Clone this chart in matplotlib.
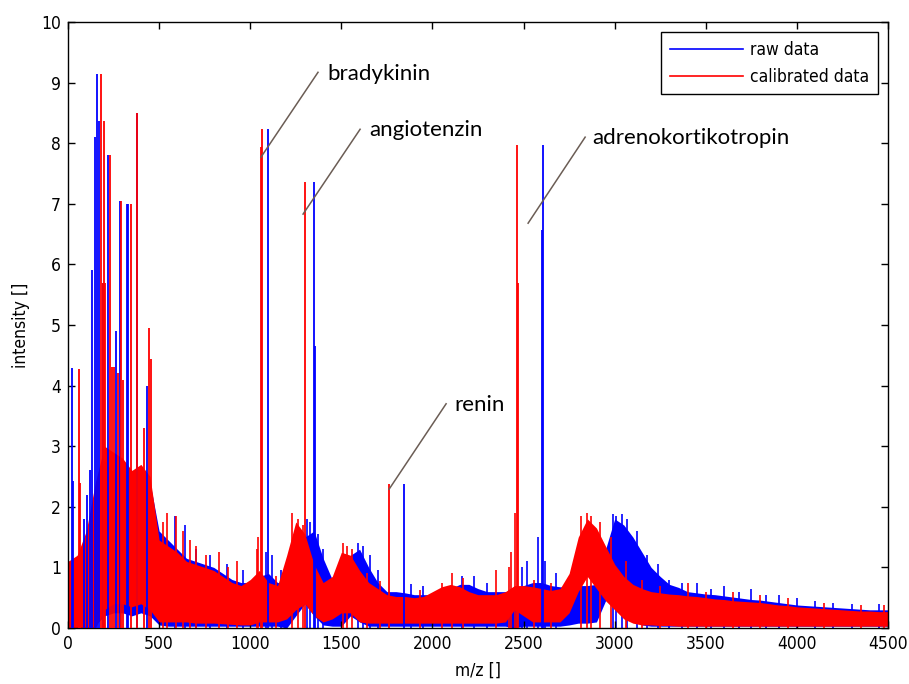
import numpy as np
import matplotlib
matplotlib.use("Agg")
import matplotlib.pyplot as plt
from matplotlib.lines import Line2D

# m/z grid for the noise envelopes (read every 50 units off the picture)
mz_grid = np.arange(0, 4501, 50)

# raw data (blue) upper / lower envelope of the noisy band
raw_top = [1.1, 1.1, 1.5, 2.2, 2.6, 2.8, 2.7, 2.6, 2.5, 2.4,
           1.6, 1.45, 1.3, 1.15, 1.1, 1.05, 1.0, 0.9, 0.8, 0.75,
           0.75, 0.85, 0.9, 0.75, 0.75, 0.9, 1.5, 1.6, 1.15, 0.8,
           0.75, 1.2, 1.3, 1.0, 0.75, 0.6, 0.6, 0.58, 0.55, 0.55,
           0.55, 0.6, 0.65, 0.72, 0.72, 0.65, 0.6, 0.6, 0.6, 0.62,
           0.7, 0.75, 0.75, 0.7, 0.68, 0.68, 0.7, 0.7, 0.72, 1.3,
           1.8, 1.7, 1.5, 1.25, 1.0, 0.85, 0.72, 0.67, 0.6, 0.58,
           0.56, 0.55, 0.53, 0.51, 0.49, 0.47, 0.46, 0.44, 0.42, 0.4,
           0.38, 0.37, 0.36, 0.35, 0.34, 0.33, 0.32, 0.31, 0.3, 0.3, 0.3]
raw_bot = [0.0, 0.0, 0.0, 0.05, 0.2, 0.25, 0.25, 0.2, 0.25, 0.2,
           0.05, 0.03, 0.03, 0.03, 0.03, 0.03, 0.03, 0.03, 0.03, 0.03,
           0.03, 0.03, 0.03, 0.03, 0.0, 0.2, 0.4, 0.2, 0.05, 0.03,
           0.03, 0.2, 0.1, 0.03, 0.03, 0.03, 0.03, 0.03, 0.03, 0.03,
           0.03, 0.03, 0.03, 0.03, 0.03, 0.03, 0.03, 0.03, 0.03, 0.0,
           0.03, 0.03, 0.03, 0.03, 0.03, 0.05, 0.08, 0.08, 0.1, 0.45,
           0.5, 0.3, 0.15, 0.05, 0.03, 0.03, 0.03, 0.03, 0.03, 0.03,
           0.03, 0.03, 0.03, 0.03, 0.03, 0.03, 0.03, 0.03, 0.03, 0.03,
           0.03, 0.03, 0.03, 0.03, 0.03, 0.03, 0.03, 0.03, 0.03, 0.03, 0.03]

# calibrated data (red) upper / lower envelope
cal_top = [1.1, 1.2, 1.6, 2.4, 3.0, 2.9, 2.8, 2.6, 2.7, 2.5,
           1.45, 1.35, 1.25, 1.1, 1.05, 1.0, 0.95, 0.85, 0.75, 0.7,
           0.8, 0.95, 0.75, 0.7, 1.2, 1.75, 1.55, 1.05, 0.75, 0.85,
           1.25, 1.2, 0.95, 0.75, 0.65, 0.55, 0.52, 0.52, 0.5, 0.52,
           0.6, 0.68, 0.72, 0.68, 0.6, 0.55, 0.55, 0.55, 0.6, 0.7,
           0.7, 0.68, 0.65, 0.62, 0.65, 0.9, 1.5, 1.8, 1.65, 1.35,
           1.05, 0.85, 0.72, 0.65, 0.6, 0.58, 0.56, 0.55, 0.53, 0.52,
           0.5, 0.48, 0.47, 0.45, 0.44, 0.43, 0.42, 0.4, 0.38, 0.37,
           0.35, 0.34, 0.33, 0.32, 0.31, 0.3, 0.29, 0.28, 0.28, 0.27, 0.27]
cal_bot = [0.0, 0.0, 0.0, 0.0, 0.3, 0.4, 0.4, 0.35, 0.4, 0.3,
           0.1, 0.1, 0.1, 0.1, 0.08, 0.08, 0.08, 0.07, 0.06, 0.05,
           0.05, 0.1, 0.1, 0.1, 0.15, 0.3, 0.4, 0.2, 0.1, 0.15,
           0.25, 0.25, 0.1, 0.08, 0.08, 0.08, 0.08, 0.08, 0.08, 0.08,
           0.08, 0.08, 0.08, 0.08, 0.08, 0.08, 0.08, 0.08, 0.1, 0.3,
           0.2, 0.1, 0.1, 0.1, 0.1, 0.25, 0.6, 0.85, 0.65, 0.45,
           0.3, 0.15, 0.08, 0.05, 0.05, 0.04, 0.04, 0.03, 0.03, 0.03,
           0.03, 0.03, 0.03, 0.03, 0.03, 0.03, 0.03, 0.03, 0.03, 0.03,
           0.03, 0.03, 0.03, 0.03, 0.03, 0.03, 0.03, 0.03, 0.03, 0.03, 0.03]

# tall peaks (m/z, intensity)
raw_peak_mz = [23, 30, 88, 106, 120, 130, 150, 158, 172, 190, 217, 266, 283,
               324, 332, 376, 435, 1099, 1348, 1356, 1844, 2600, 2605]
raw_peak_int = [4.29, 2.43, 1.8, 2.2, 2.6, 5.9, 8.1, 9.15, 8.37, 5.7, 7.8, 4.9, 7.05,
                7.0, 7.0, 8.5, 4.0, 8.23, 7.36, 4.65, 2.37, 6.56, 7.97]
cal_peak_mz = [60, 65, 182, 190, 199, 205, 230, 240, 250, 275, 292, 300,
               348, 380, 415, 442, 455, 1059, 1065, 1299, 1762, 2466, 2472]
cal_peak_int = [4.28, 2.4, 9.15, 5.7, 8.37, 5.7, 7.8, 4.3, 4.3, 4.2, 7.05, 4.1,
                7.0, 8.5, 3.3, 4.95, 4.44, 7.94, 8.23, 7.36, 2.37, 7.97, 5.69]

# small spikes sticking out of the noise band
raw_spike_mz = [585, 640, 700, 780, 870, 960, 1085, 1120, 1170, 1310, 1330,
                1370, 1400, 1590, 1620, 1660, 1700, 1880, 1950, 2160, 2230,
                2300, 2490, 2520, 2580, 2620, 2680, 2990, 3010, 3040, 3070,
                3120, 3180, 3240, 3300, 3370, 3450, 3530, 3600, 3680, 3750,
                3830, 3900, 4000, 4100, 4200, 4300, 4450]
raw_spike_int = [1.85, 1.7, 1.3, 1.2, 1.05, 0.95, 1.25, 1.2, 0.95, 1.8, 1.75,
                 1.55, 1.3, 1.4, 1.35, 1.2, 0.95, 0.72, 0.7, 0.85, 0.85,
                 0.75, 1.0, 1.1, 1.5, 1.1, 0.9, 1.88, 1.85, 1.88, 1.8,
                 1.6, 1.2, 1.05, 0.8, 0.75, 0.75, 0.65, 0.7, 0.6, 0.65,
                 0.55, 0.55, 0.5, 0.45, 0.42, 0.4, 0.4]
cal_spike_mz = [520, 545, 590, 630, 670, 700, 760, 830, 880, 930, 1035, 1045,
                1140, 1230, 1260, 1290, 1510, 1530, 1560, 1640, 1710, 1930,
                2050, 2105, 2170, 2350, 2420, 2430, 2455, 2560, 2650, 2815,
                2850, 2870, 2920, 2980, 3060, 3150, 3250, 3400, 3500, 3650,
                3800, 3950, 4150, 4350, 4480]
cal_spike_int = [1.75, 1.9, 1.85, 1.6, 1.45, 1.35, 1.2, 1.25, 1.0, 1.1, 1.3, 1.5,
                 0.85, 1.9, 1.8, 1.7, 1.4, 1.35, 1.3, 0.9, 0.78, 0.62,
                 0.75, 0.9, 0.82, 0.95, 1.0, 1.25, 1.9, 0.8, 0.75, 1.85,
                 1.9, 1.85, 1.75, 1.5, 1.1, 0.8, 0.7, 0.75, 0.6, 0.6,
                 0.55, 0.5, 0.42, 0.38, 0.38]

# annotations: label, text position, line start, line end (data coords)
ann_labels = ["bradykinin", "angiotenzin", "renin", "adrenokortikotropin"]
ann_text_xy = [(1421, 9.14), (1652, 8.22), (2118, 3.68), (2876, 8.09)]
ann_line_from = [(1372, 9.17), (1603, 8.23), (2075, 3.7), (2838, 8.1)]
ann_line_to = [(1059, 7.77), (1290, 6.83), (1762, 2.29), (2525, 6.68)]

tick_font = {"family": "DejaVu Sans", "stretch": "condensed", "size": 12.5}
ann_font = ["Lato", "Open Sans", "DejaVu Sans"]

fig = plt.figure(figsize=(9.09, 6.84), dpi=100)
ax = fig.add_axes([68 / 909, 56 / 684, 820 / 909, 606 / 684])

ax.fill_between(mz_grid, raw_bot, raw_top, color="#0000ff", lw=0, zorder=1)
ax.vlines(raw_spike_mz, 0, raw_spike_int, color="#0000ff", lw=1.2, zorder=1.5)
ax.fill_between(mz_grid, cal_bot, cal_top, color="#ff0000", lw=0, zorder=2)
ax.vlines(raw_peak_mz, 0, raw_peak_int, color="#0000ff", lw=1.3, zorder=3)
ax.vlines(cal_spike_mz, 0, cal_spike_int, color="#ff0000", lw=1.2, zorder=3.5)
ax.vlines(cal_peak_mz, 0, cal_peak_int, color="#ff0000", lw=1.3, zorder=4)

for lab, txy, p0, p1 in zip(ann_labels, ann_text_xy, ann_line_from, ann_line_to):
    ax.plot([p0[0], p1[0]], [p0[1], p1[1]], color="#6b5d55", lw=1.1, zorder=5)
    ax.text(txy[0], txy[1], lab, family=ann_font, fontsize=16,
            va="center", ha="left", zorder=6)

ax.set_xlim(0, 4500)
ax.set_ylim(0, 10)
ax.set_xticks(np.arange(0, 4501, 500))
ax.set_yticks(np.arange(0, 11, 1))
ax.tick_params(direction="in", top=True, right=True, length=5, width=1, pad=5)
for lbl in ax.get_xticklabels() + ax.get_yticklabels():
    lbl.set_fontproperties(tick_font)
for sp in ax.spines.values():
    sp.set_linewidth(1)
ax.set_xlabel("m/z []", fontdict=tick_font, labelpad=6)
ax.set_ylabel("intensity []", fontdict=tick_font, labelpad=8)

handles = [Line2D([], [], color="#0000ff", lw=1.2),
           Line2D([], [], color="#ff0000", lw=1.2)]
leg = ax.legend(handles, ["raw data", "calibrated data"], loc="upper right",
                prop=tick_font, fancybox=False, edgecolor="black",
                framealpha=1, handlelength=4.2, handletextpad=0.4,
                borderaxespad=0.6, labelspacing=0.5, borderpad=0.5)
leg.get_frame().set_linewidth(1)

fig.savefig("out.png", dpi=100)
